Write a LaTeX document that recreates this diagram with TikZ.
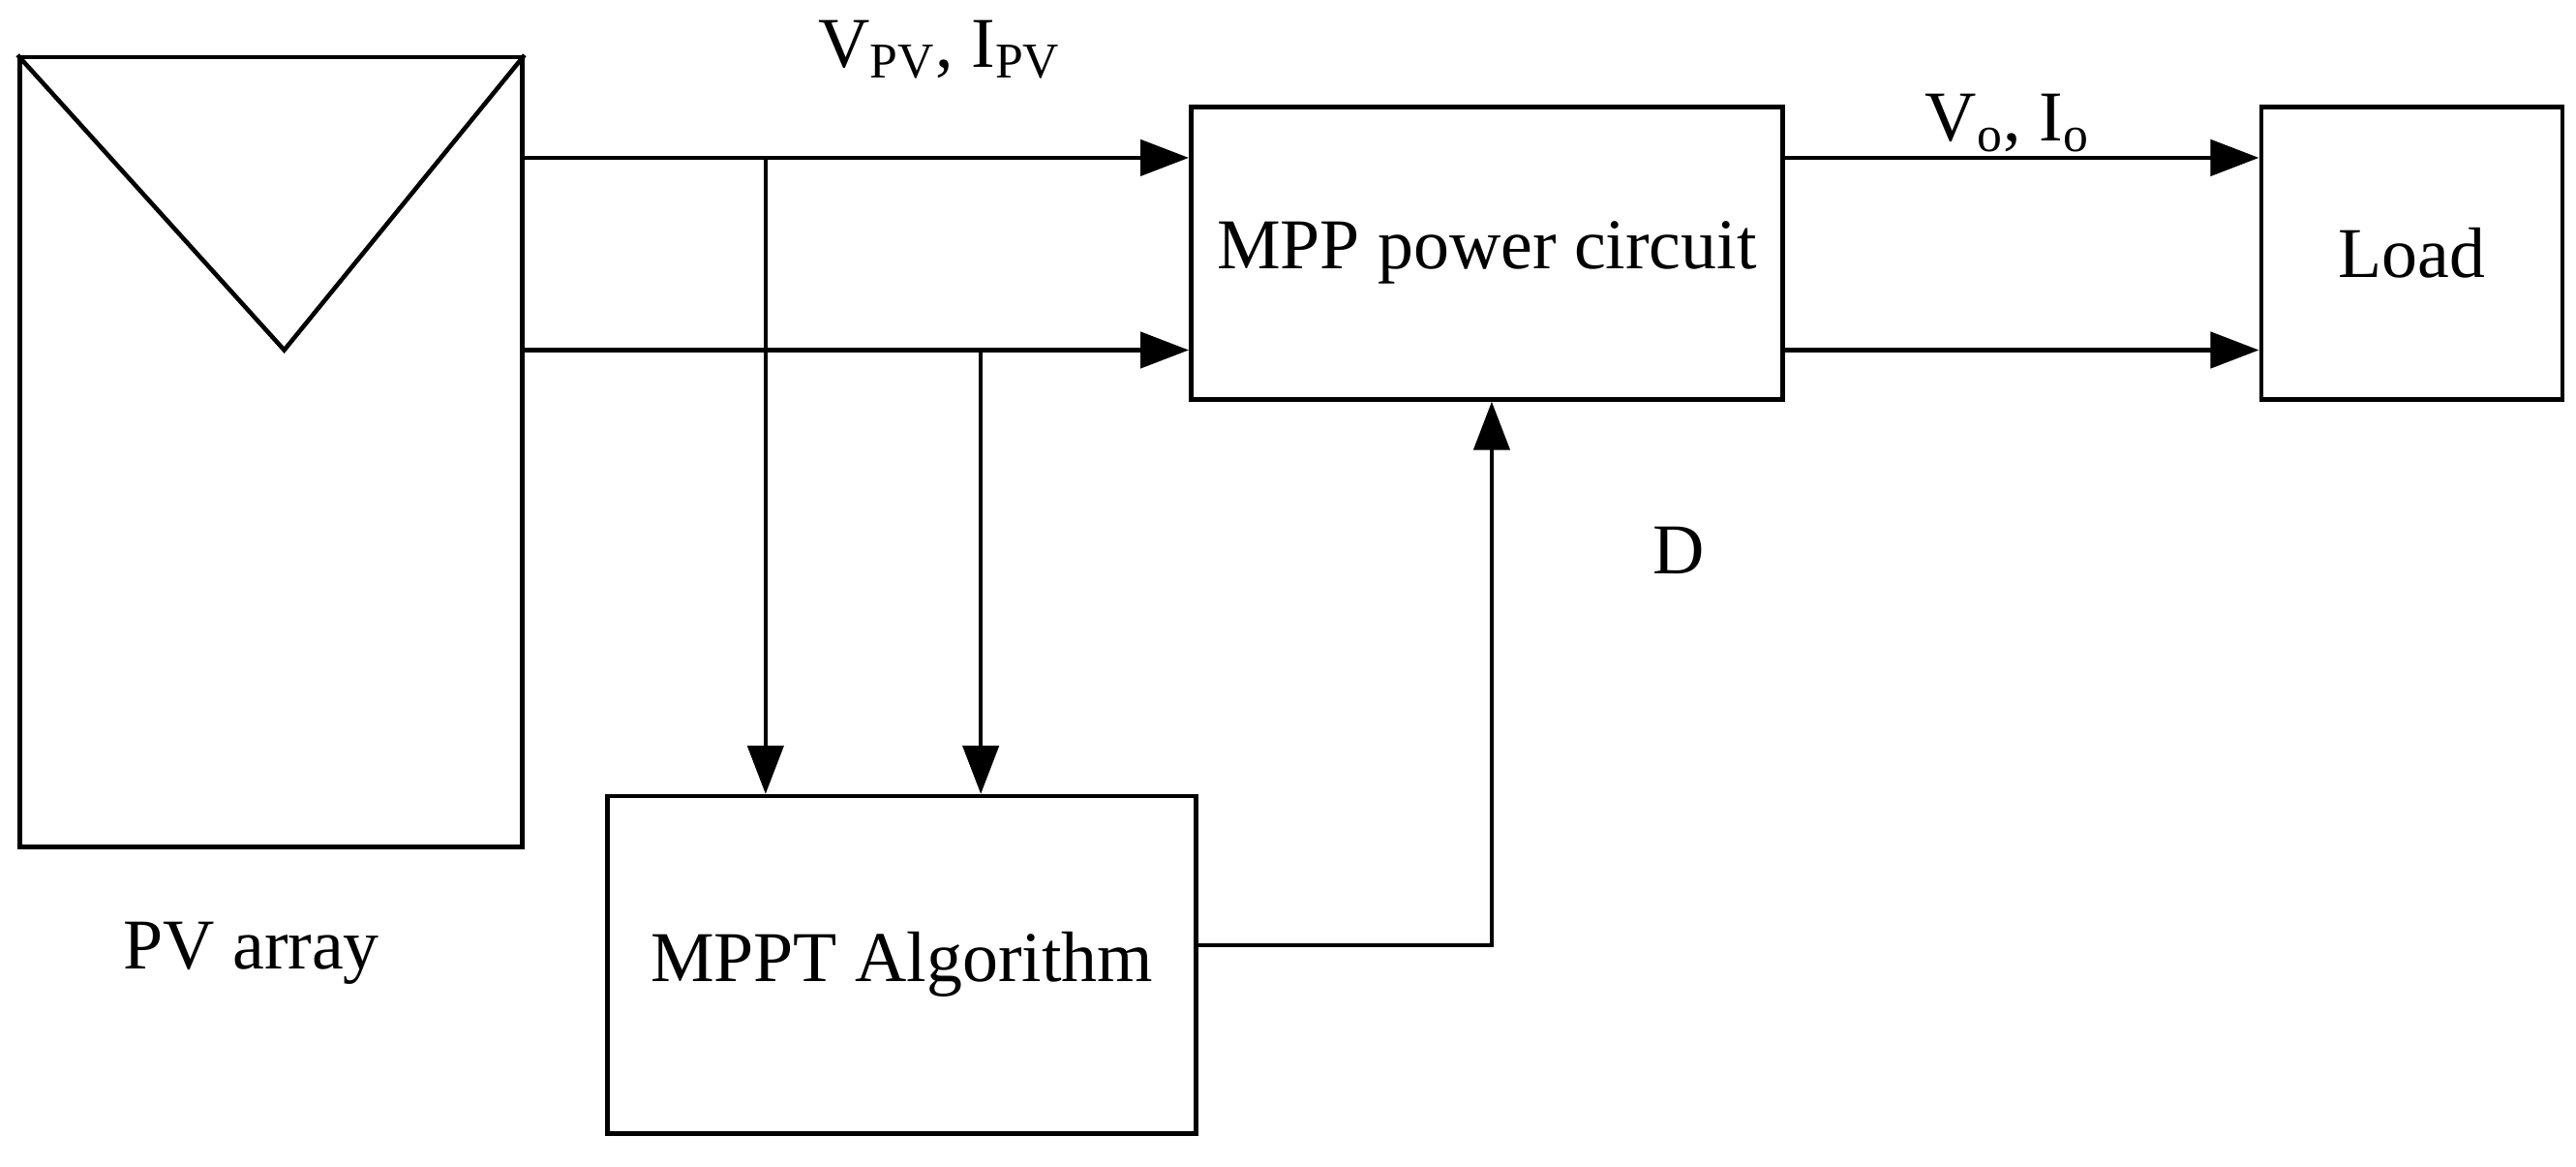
\documentclass[tikz,border=0pt]{standalone}
\usepackage{fontspec}
\setmainfont{Liberation Serif}
\usetikzlibrary{arrows.meta}
\begin{document}
\begin{tikzpicture}[x=0.01697cm,y=-0.01697cm,
  box/.style={draw,line width=1.3pt,inner sep=0pt},
  con/.style={line width=1.3pt,-{Triangle[length=0.5cm,width=0.37cm]}},
  lab/.style={font=\fontsize{21}{25}\selectfont}]
\useasboundingbox (0,0) rectangle (1568,710);
\node[box,minimum width=5.19cm,minimum height=8.15cm] (pv) at (165,275) {};
\draw[line width=1.3pt] (pv.north west) -- (173,213) coordinate (tip) -- (pv.north east);
\node[box,minimum width=6.11cm,minimum height=3.02cm,lab] (mpp) at (905,154) {MPP power circuit};
\node[box,minimum width=3.11cm,minimum height=3.02cm,lab] (load) at (1468,154) {Load};
\node[box,minimum width=6.08cm,minimum height=3.48cm,lab] (mppt) at (549,587) {MPPT Algorithm};
\coordinate (a1) at (318,96); \coordinate (a2) at (318,213);
\coordinate (j1) at (466,96); \coordinate (j2) at (597,213);
\draw[con] (a1) -- (mpp.west |- a1);
\draw[con] (a2) -- (mpp.west |- a2);
\draw[con] (j1) -- (j1 |- mppt.north);
\draw[con] (j2) -- (j2 |- mppt.north);
\draw[con] (mpp.east |- a1) -- (load.west |- a1);
\draw[con] (mpp.east |- a2) -- (load.west |- a2);
\coordinate (d) at (908,575);
\draw[con] (mppt.east |- d) -- (d) -- (d |- mpp.south);
\node[lab] (l1) at (572,30) {V\textsubscript{PV}, I\textsubscript{PV}};
\node[lab] (l2) at (1222,75) {V\textsubscript{o}, I\textsubscript{o}};
\node[lab] (l3) at (1022,335) {D};
\node[lab] (l4) at (153,580) {PV array};
\end{tikzpicture}
\end{document}
